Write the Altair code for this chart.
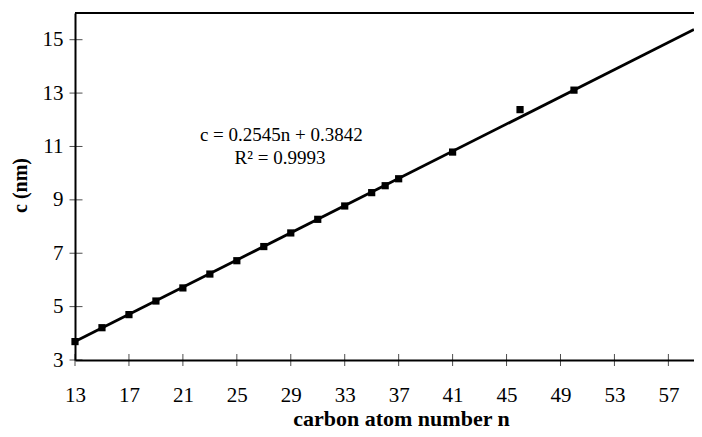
import altair as alt
import pandas as pd

# Measured data points (carbon atom number n, lattice parameter c in nm)
n_values = [13, 15, 17, 19, 21, 23, 25, 27, 29, 31, 33, 35, 36, 37, 41, 46, 50]
c_values = [3.69, 4.21, 4.70, 5.21, 5.70, 6.22, 6.72, 7.25, 7.76, 8.27, 8.77,
            9.27, 9.53, 9.79, 10.79, 12.38, 13.11]

# Trend line end points
trend_n = [13, 58.9]
trend_c = [3.69, 15.38]

# Axis ticks
x_ticks = [13, 17, 21, 25, 29, 33, 37, 41, 45, 49, 53, 57]
y_ticks = [3, 5, 7, 9, 11, 13, 15]

# Annotation
eq_labels = ["c = 0.2545n + 0.3842", "R² = 0.9993"]
eq_n = [28.3, 28.2]
eq_c = [11.2, 10.33]

X_DOMAIN = [13, 58.9]
Y_DOMAIN = [3, 16]
W, H = 619, 347
FONT = "Liberation Serif"

pts = pd.DataFrame({"n": n_values, "c": c_values})
trend = pd.DataFrame({"n": trend_n, "c": trend_c})
xt = pd.DataFrame({"n": x_ticks})
yt = pd.DataFrame({"c": y_ticks})
eq = pd.DataFrame({"n": eq_n, "c": eq_c, "label": eq_labels})

xscale = alt.Scale(domain=X_DOMAIN, nice=False, zero=False)
yscale = alt.Scale(domain=Y_DOMAIN, nice=False, zero=False)

x_axis = alt.Axis(
    values=x_ticks, ticks=False, grid=False, domainColor="black", domainWidth=2,
    labelFont=FONT, labelFontSize=21, labelColor="black", labelPadding=24,
    labelFlush=False, labelOverlap=False,
    title="carbon atom number n", titleFont=FONT, titleFontSize=22,
    titleFontWeight="bold", titleColor="black", titleX=326, titleY=65,
    titleBaseline="alphabetic", titleAlign="center",
)
y_axis = alt.Axis(
    values=y_ticks, ticks=False, grid=False, domainColor="black", domainWidth=2,
    labelFont=FONT, labelFontSize=21, labelColor="black", labelPadding=12,
    labelFlush=False, labelOverlap=False,
    title="c (nm)", titleFont=FONT, titleFontSize=20, titleFontWeight="bold",
    titleColor="black", titleX=-49, titleY=172, titleAngle=-90,
    titleBaseline="alphabetic", titleAlign="center",
)

x_enc = alt.X("n:Q", scale=xscale, axis=x_axis)
y_enc = alt.Y("c:Q", scale=yscale, axis=y_axis)

line = alt.Chart(trend).mark_line(color="black", strokeWidth=2.8).encode(x=x_enc, y=y_enc)
points = alt.Chart(pts).mark_square(size=52, color="black", opacity=1).encode(x=x_enc, y=y_enc)

x_tick_marks = alt.Chart(xt).mark_tick(
    orient="vertical", size=12, thickness=1, color="black"
).encode(x=x_enc, y=alt.value(H))
y_tick_marks = alt.Chart(yt).mark_tick(
    orient="horizontal", size=13, thickness=1, color="black"
).encode(y=y_enc, x=alt.value(1))

top_frame = alt.Chart(pts).mark_rule(color="black", strokeWidth=2).encode(
    x=alt.datum(X_DOMAIN[0], scale=xscale),
    x2=alt.datum(X_DOMAIN[1]),
    y=alt.datum(Y_DOMAIN[1], scale=yscale),
)

text = alt.Chart(eq).mark_text(
    font=FONT, fontSize=19, color="black", align="center", baseline="alphabetic"
).encode(x=x_enc, y=y_enc, text="label:N")

chart = alt.layer(top_frame, x_tick_marks, y_tick_marks, line, points, text).properties(
    width=W, height=H,
    autosize=alt.AutoSizeParams(type="none"),
    padding={"left": 67, "top": 5, "right": 0, "bottom": 69},
).configure(background="white").configure_view(stroke=None)

chart.save("out.html", embed_options={"renderer": "svg", "actions": False})
